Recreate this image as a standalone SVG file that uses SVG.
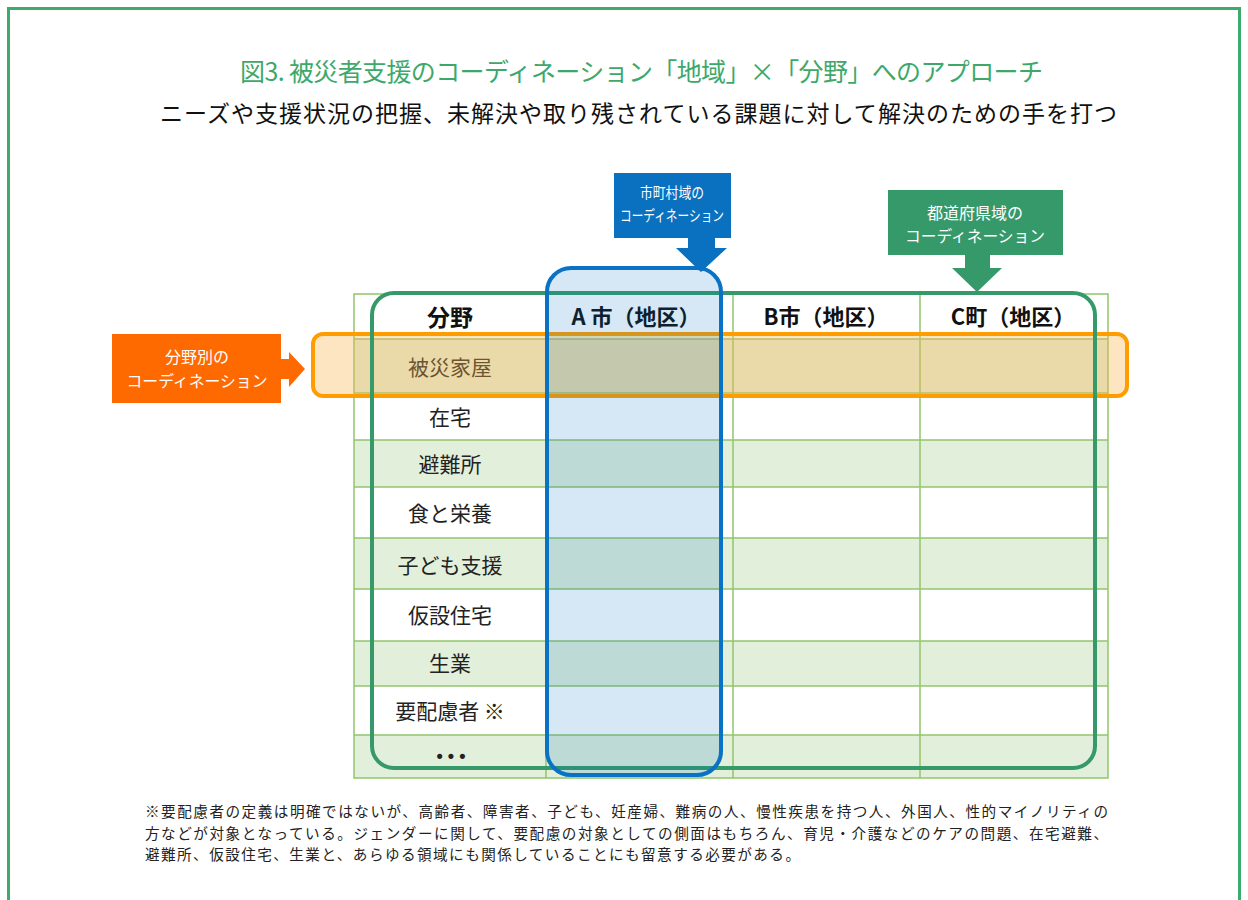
<svg xmlns="http://www.w3.org/2000/svg" width="1248" height="900" viewBox="0 0 1248 900">
<style>
text{font-family:"Noto Sans CJK JP","Noto Sans CJK SC",sans-serif;}
.title{font-size:25px;fill:#3ea86a;}
.sub{font-size:23px;fill:#111;}
.hd{font-size:22px;font-weight:bold;fill:#111;text-anchor:middle;}
.lbl{font-size:21px;fill:#222;text-anchor:middle;}
.wl{font-size:16px;fill:#fff;text-anchor:middle;}
.wb{font-size:15px;fill:#fff;text-anchor:middle;}
.note{font-size:14.6px;fill:#222;}
.grid{stroke:#93c56c;stroke-width:1.5;fill:none;}
.g{fill:#e2efda;}
</style>
<rect x="8.5" y="8.5" width="1231" height="900" fill="#fff" stroke="#3daa6e" stroke-width="3"/>
<g id="title">
<text class="title" x="240" y="81" textLength="803">図3. 被災者支援のコーディネーション「地域」×「分野」へのアプローチ</text>
<text class="sub" x="160" y="122" textLength="957">ニーズや支援状況の把握、未解決や取り残されている課題に対して解決のための手を打つ</text>
</g>
<g id="table">
<rect x="354" y="294" width="754" height="484" fill="#fff"/>
<rect class="g" x="354" y="339" width="754" height="54"/>
<rect class="g" x="354" y="440" width="754" height="47"/>
<rect class="g" x="354" y="538" width="754" height="51"/>
<rect class="g" x="354" y="641" width="754" height="45"/>
<rect class="g" x="354" y="735" width="754" height="43"/>
<path class="grid" d="M354 294H1108V778H354Z M546 294V778 M733 294V778 M920 294V778 M354 339H1108 M354 393H1108 M354 440H1108 M354 487H1108 M354 538H1108 M354 589H1108 M354 641H1108 M354 686H1108 M354 735H1108"/>
<text class="hd" x="450" y="326" style="font-size:23px">分野</text>
<text class="hd" x="636" y="325">A 市（地区）</text>
<text class="hd" x="826" y="325">B市（地区）</text>
<text class="hd" x="1013" y="325">C町（地区）</text>
<text class="lbl" x="450" y="375">被災家屋</text>
<text class="lbl" x="450" y="425">在宅</text>
<text class="lbl" x="450" y="472">避難所</text>
<text class="lbl" x="450" y="521">食と栄養</text>
<text class="lbl" x="450" y="573">子ども支援</text>
<text class="lbl" x="450" y="623">仮設住宅</text>
<text class="lbl" x="450" y="671">生業</text>
<text class="lbl" x="450" y="719">要配慮者 ※</text>
<text x="451" y="762" style="font-family:'Liberation Sans',sans-serif;font-size:18px;font-weight:bold;fill:#222" text-anchor="middle">• • •</text>
</g>
<g id="field-band">
<rect x="313" y="334" width="814" height="62" rx="10" fill="rgb(250,180,80)" fill-opacity="0.35" stroke="#ff9d00" stroke-width="4"/>
</g>
<g id="prefecture-frame">
<rect x="372" y="293" width="723" height="475" rx="22" fill="none" stroke="#35996a" stroke-width="4"/>
</g>
<g id="city-column">
<rect x="547" y="268" width="174" height="507" rx="24" fill="rgb(0,112,192)" fill-opacity="0.16" stroke="#0a72c4" stroke-width="4"/>
</g>
<g id="connectors">
<path d="M688 238H715V248H727L701 272L676 248H688Z" fill="#0a70c0"/>
<path d="M965 255H990V268H1002L977 292L952 268H965Z" fill="#36996a"/>
<path d="M281 359H289V352L305 369L289 387V379H281Z" fill="#ff6a00"/>
</g>
<g id="city-label">
<rect x="614" y="173" width="117" height="65" fill="#0a70c0"/>
<text class="wb" x="672" y="198" textLength="64" lengthAdjust="spacingAndGlyphs">市町村域の</text>
<text class="wb" x="672" y="221" textLength="104" lengthAdjust="spacingAndGlyphs">コーディネーション</text>
</g>
<g id="prefecture-label">
<rect x="888" y="190" width="175" height="65" fill="#36996a"/>
<text class="wl" x="975" y="219">都道府県域の</text>
<text class="wl" x="975" y="242" textLength="140" lengthAdjust="spacingAndGlyphs">コーディネーション</text>
</g>
<g id="field-label">
<rect x="112" y="334" width="169" height="69" fill="#ff6a00"/>
<text class="wl" x="197" y="363">分野別の</text>
<text class="wl" x="197" y="387" textLength="141" lengthAdjust="spacingAndGlyphs">コーディネーション</text>
</g>
<g id="note">
<text class="note" x="145" y="817" textLength="963">※要配慮者の定義は明確ではないが、高齢者、障害者、子ども、妊産婦、難病の人、慢性疾患を持つ人、外国人、性的マイノリティの</text>
<text class="note" x="145" y="838.5" textLength="963">方などが対象となっている。ジェンダーに関して、要配慮の対象としての側面はもちろん、育児・介護などのケアの問題、在宅避難、</text>
<text class="note" x="145" y="860" textLength="655">避難所、仮設住宅、生業と、あらゆる領域にも関係していることにも留意する必要がある。</text>
</g>
</svg>
